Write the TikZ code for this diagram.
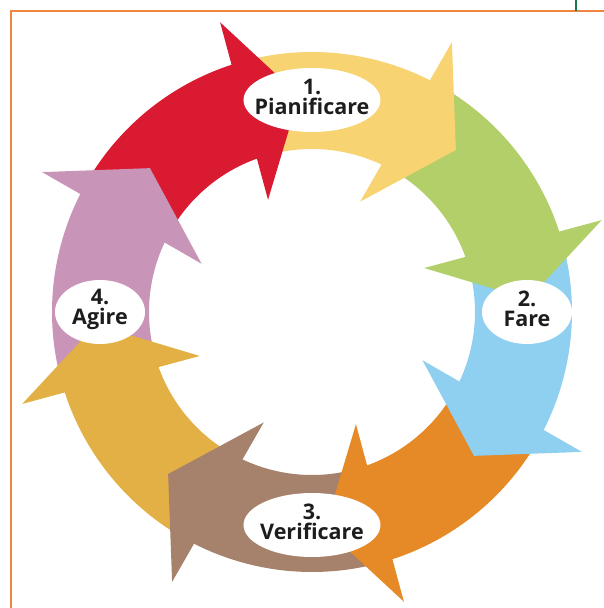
\documentclass[tikz,border=0pt]{standalone}
\usepackage{fontspec}
\setsansfont{Open Sans}
\usetikzlibrary{shapes.geometric}
\definecolor{cred}{HTML}{D91A31}
\definecolor{cyellow}{HTML}{F8D372}
\definecolor{cgreen}{HTML}{B3CF69}
\definecolor{cblue}{HTML}{8FD0F0}
\definecolor{corange}{HTML}{E68A27}
\definecolor{cbrown}{HTML}{A6816C}
\definecolor{cmustard}{HTML}{E3B045}
\definecolor{cpink}{HTML}{C895B8}
\definecolor{cframe}{HTML}{EE8640}
\definecolor{cmark}{HTML}{1A7A4A}
\definecolor{ctext}{HTML}{1E1C1D}
\tikzstyle{stage} = [ellipse, fill=white, inner sep=0pt, minimum height=64]
\tikzstyle{wide} = [stage, minimum width=137]
\tikzstyle{narrow} = [stage, minimum width=90]
\tikzstyle{caption} = [align=center, text=ctext, yshift=3,
  font=\sffamily\bfseries\fontsize{21.5}{20}\selectfont]
\tikzstyle{frame} = [cframe, line width=2.5pt]

\begin{document}
\begin{tikzpicture}[x=1pt,y=1pt]
    \useasboundingbox (-312,-296) rectangle (292,312);
    % page frame
    \draw [frame] (-301,-296) -- (-301,301) -- (292,301);
    \draw [cmark, line width=2pt] (264,301) -- (264,312);

    % ring bodies
    \fill [cred] (152.7:260) arc[start angle=152.7, end angle=107.7, radius=260] -- (109.6:163) arc[start angle=109.6, end angle=154.6, radius=163] -- cycle;
    \fill [cyellow] (107.7:260) arc[start angle=107.7, end angle=62.7, radius=260] -- (64.6:163) arc[start angle=64.6, end angle=109.6, radius=163] -- cycle;
    \fill [cgreen] (62.7:260) arc[start angle=62.7, end angle=17.7, radius=260] -- (19.6:163) arc[start angle=19.6, end angle=64.6, radius=163] -- cycle;
    \fill [cblue] (17.7:260) arc[start angle=17.7, end angle=-27.3, radius=260] -- (-25.4:163) arc[start angle=-25.4, end angle=19.6, radius=163] -- cycle;
    \fill [corange] (-27.3:260) arc[start angle=-27.3, end angle=-72.3, radius=260] -- (-70.4:163) arc[start angle=-70.4, end angle=-25.4, radius=163] -- cycle;
    \fill [cbrown] (-72.3:260) arc[start angle=-72.3, end angle=-117.3, radius=260] -- (-115.4:163) arc[start angle=-115.4, end angle=-70.4, radius=163] -- cycle;
    \fill [cmustard] (-117.3:260) arc[start angle=-117.3, end angle=-162.3, radius=260] -- (-160.4:163) arc[start angle=-160.4, end angle=-115.4, radius=163] -- cycle;
    \fill [cpink] (197.7:260) arc[start angle=197.7, end angle=152.7, radius=260] -- (154.6:163) arc[start angle=154.6, end angle=199.6, radius=163] -- cycle;

    % arrow heads
    \fill [cred] (107.6:304) -- (93.4:216.7) -- (111.4:120.5) -- cycle;
    \fill [cyellow] (62.6:304) -- (48.4:216.7) -- (66.4:120.5) -- cycle;
    \fill [cgreen] (17.6:304) -- (3.4:216.7) -- (21.4:120.5) -- cycle;
    \fill [cblue] (-27.4:304) -- (-41.6:216.7) -- (-23.6:120.5) -- cycle;
    \fill [corange] (-72.4:304) -- (-86.6:216.7) -- (-68.6:120.5) -- cycle;
    \fill [cbrown] (-117.4:304) -- (-131.6:216.7) -- (-113.6:120.5) -- cycle;
    \fill [cmustard] (-162.4:304) -- (-176.6:216.7) -- (-158.6:120.5) -- cycle;
    \fill [cpink] (152.6:304) -- (138.4:216.7) -- (156.4:120.5) -- cycle;

    % stages
    \node (plan) [wide, label={[caption]center:1.\\Pianificare}] at (0,212) {};
    \node (do) [narrow, label={[caption]center:2.\\Fare}] at (215,0) {};
    \node (check) [wide, label={[caption]center:3.\\Verificare}] at (0,-213) {};
    \node (act) [narrow, label={[caption]center:4.\\Agire}] at (-212,0) {};
\end{tikzpicture}
\end{document}
